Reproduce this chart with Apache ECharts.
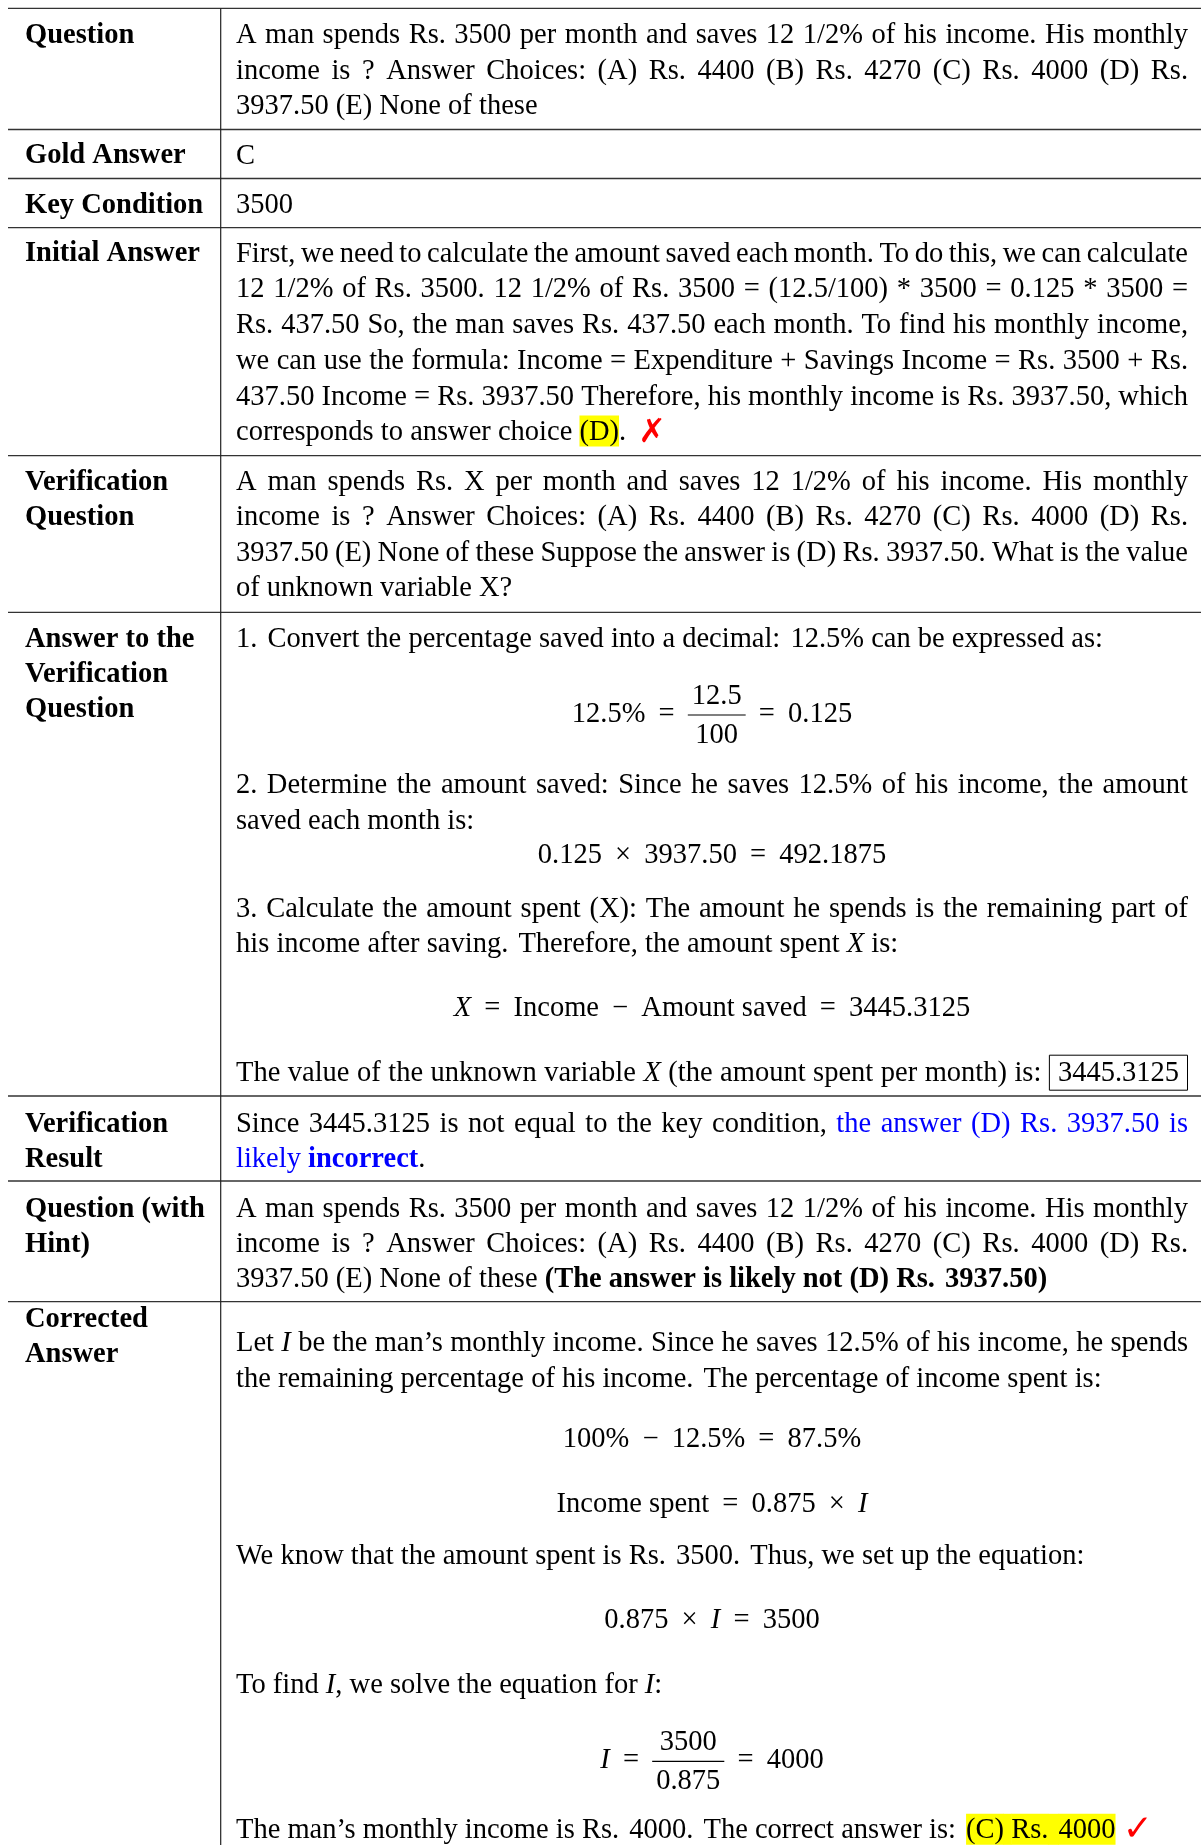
<!DOCTYPE html>
<html>
<head>
<meta charset="utf-8">
<script src="https://cdn.jsdelivr.net/npm/echarts@6/dist/echarts.min.js"></script>
<style>
  html, body { margin: 0; padding: 0; background: #fff; }
  #main { width: 1201px; height: 1845px; }
</style>
</head>
<body>
<div id="main"></div>
<script>
// row headers (left column)
const rowLabels = [
  ['Question'],
  ['Gold Answer'],
  ['Key Condition'],
  ['Initial Answer'],
  ['Verification', 'Question'],
  ['Answer to the', 'Verification', 'Question'],
  ['Verification', 'Result'],
  ['Question (with', 'Hint)'],
  ['Corrected', 'Answer']
];

// cell texts, one entry per printed line: [kind, ...segments]
// kind: j = justified, l = left, c = centred formula
// segment: plain string, or {b}, {i}, {c} blue, {cb} blue bold, {hl} highlight, {box}, {f:[num,den]}, {x} cross, {ok} tick
const questionLines = [
  ['j', 'A man spends Rs. 3500 per month and saves 12 1/2% of his income. His monthly'],
  ['j', 'income is ? Answer Choices: (A) Rs. 4400 (B) Rs. 4270 (C) Rs. 4000 (D) Rs.'],
  ['l', '3937.50 (E) None of these']
];
const goldLines = [['l', 'C']];
const keyLines = [['l', '3500']];
const initialLines = [
  ['j', 'First, we need to calculate the amount saved each month. To do this, we can calculate'],
  ['j', '12 1/2% of Rs. 3500. 12 1/2% of Rs. 3500 = (12.5/100) * 3500 = 0.125 * 3500 ='],
  ['j', 'Rs. 437.50 So, the man saves Rs. 437.50 each month. To find his monthly income,'],
  ['j', 'we can use the formula: Income = Expenditure + Savings Income = Rs. 3500 + Rs.'],
  ['j', '437.50 Income = Rs. 3937.50 Therefore, his monthly income is Rs. 3937.50, which'],
  ['l', 'corresponds to answer choice ', { hl: '(D)' }, '. ', { x: '✗' }]
];
const verifQuestionLines = [
  ['j', 'A man spends Rs. X per month and saves 12 1/2% of his income. His monthly'],
  ['j', 'income is ? Answer Choices: (A) Rs. 4400 (B) Rs. 4270 (C) Rs. 4000 (D) Rs.'],
  ['j', '3937.50 (E) None of these Suppose the answer is (D) Rs. 3937.50. What is the value'],
  ['l', 'of unknown variable X?']
];
const verifAnswerLines = [
  ['l', '1. Convert the percentage saved into a decimal: 12.5% can be expressed as:'],
  ['c', '12.5% = ', { f: ['12.5', '100'] }, ' = 0.125'],
  ['j', '2. Determine the amount saved: Since he saves 12.5% of his income, the amount'],
  ['l', 'saved each month is:'],
  ['c', '0.125 × 3937.50 = 492.1875'],
  ['j', '3. Calculate the amount spent (X): The amount he spends is the remaining part of'],
  ['l', 'his income after saving. Therefore, the amount spent ', { i: 'X' }, ' is:'],
  ['c', { i: 'X' }, ' = Income − Amount saved = 3445.3125'],
  ['j', 'The value of the unknown variable ', { i: 'X' }, ' (the amount spent per month) is: ', { box: '3445.3125' }]
];
const resultLines = [
  ['j', 'Since 3445.3125 is not equal to the key condition, ', { c: 'the answer (D) Rs. 3937.50 is' }],
  ['l', { c: 'likely ' }, { cb: 'incorrect' }, '.']
];
const hintLines = [
  ['j', 'A man spends Rs. 3500 per month and saves 12 1/2% of his income. His monthly'],
  ['j', 'income is ? Answer Choices: (A) Rs. 4400 (B) Rs. 4270 (C) Rs. 4000 (D) Rs.'],
  ['l', '3937.50 (E) None of these ', { b: '(The answer is likely not (D) Rs. 3937.50)' }]
];
const correctedLines = [
  ['j', 'Let ', { i: 'I' }, ' be the man’s monthly income. Since he saves 12.5% of his income, he spends'],
  ['l', 'the remaining percentage of his income. The percentage of income spent is:'],
  ['c', '100% − 12.5% = 87.5%'],
  ['c', 'Income spent = 0.875 × ', { i: 'I' }],
  ['l', 'We know that the amount spent is Rs. 3500. Thus, we set up the equation:'],
  ['c', '0.875 × ', { i: 'I' }, ' = 3500'],
  ['l', 'To find ', { i: 'I' }, ', we solve the equation for ', { i: 'I' }, ':'],
  ['c', { i: 'I' }, ' = ', { f: ['3500', '0.875'] }, ' = 4000'],
  ['l', 'The man’s monthly income is Rs. 4000. The correct answer is: ', { hl: '(C) Rs. 4000' }, ' ', { ok: '✓' }]
];
const rowLines = [questionLines, goldLines, keyLines, initialLines, verifQuestionLines,
  verifAnswerLines, resultLines, hintLines, correctedLines];

// layout (pixels)
const rowTops = [8.3, 129.5, 178.5, 227.7, 455.7, 612.3, 1096, 1181, 1301.7];
const labelBase = [[43], [163.5], [213], [261.5], [490, 525], [646.7, 681.7, 716.7],
  [1131.7, 1166.7], [1216.7, 1251.7], [1327, 1362]];
const lineBase = [
  [43, 78.7, 114.4],
  [163.5],
  [213],
  [261.5, 297, 332.5, 368.5, 404.5, 440],
  [490, 525, 560.5, 596],
  [646.7, 722, 793, 829, 863, 916.7, 952, 1016, 1080.7],
  [1131.7, 1166.7],
  [1216.7, 1251.7, 1287],
  [1351, 1386.7, 1446.7, 1511.7, 1564.3, 1628.3, 1693.3, 1768.3, 1838.3]
];

const FS = 28.5;
const SERIF = '"Liberation Serif", "Times New Roman", serif';
const LABEL_X = 25, LEFT_X = 236, RIGHT_X = 1188, CENTER_X = 712, COL_X = 220.7;
const MID = 0.26;
const SENT_EXTRA = 3, OP_EXTRA = 6;

const ctx = document.createElement('canvas').getContext('2d');
function measure(text, font) { ctx.font = font; return ctx.measureText(text).width; }

function norm(seg) {
  if (typeof seg === 'string') return { text: seg, tag: 'n' };
  const tag = Object.keys(seg)[0];
  return { text: seg[tag], tag: tag };
}
function fontOf(tag) {
  if (tag === 'b' || tag === 'cb') return 'bold ' + FS + 'px ' + SERIF;
  if (tag === 'i') return 'italic ' + FS + 'px ' + SERIF;
  if (tag === 'x') return 'bold 33px "DejaVu Sans"';
  if (tag === 'ok') return '36px "DejaVu Sans"';
  return FS + 'px ' + SERIF;
}
function fillOf(tag) {
  if (tag === 'c' || tag === 'cb') return '#0000ff';
  if (tag === 'x' || tag === 'ok') return '#ff0000';
  return '#000';
}
const BOX_PAD = 9, FRAC_PAD = 4;
function pieceWidth(p) {
  if (p.tag === 'f') {
    return Math.max(measure(p.text[0], fontOf('n')), measure(p.text[1], fontOf('n'))) + 2 * FRAC_PAD;
  }
  const w = measure(p.text, fontOf(p.tag));
  return p.tag === 'box' ? w + 2 * BOX_PAD : w;
}

const elements = [];
function text(x, base, str, font, fill, align) {
  elements.push({
    type: 'text', x: x, y: base - MID * FS, z: 10,
    style: { text: str, font: font, fill: fill, align: align || 'left', verticalAlign: 'middle',
      textAlign: align || 'left', textVerticalAlign: 'middle' }
  });
}
function hlRect(x, base, w) {
  elements.push({ type: 'rect', z: 1, shape: { x: x, y: base - 24.5, width: w, height: 31 },
    style: { fill: '#ffff00' } });
}
function drawPiece(p, x, base) {
  const w = pieceWidth(p);
  if (p.tag === 'f') {
    const mid = x + w / 2;
    text(mid, base - 18, p.text[0], fontOf('n'), '#000', 'center');
    text(mid, base + 20.5, p.text[1], fontOf('n'), '#000', 'center');
    elements.push({ type: 'line', z: 10, shape: { x1: x, y1: base - 7, x2: x + w, y2: base - 7 },
      style: { stroke: '#000', lineWidth: 1.2 } });
    return;
  }
  if (p.tag === 'hl') hlRect(x, base, w);
  if (p.tag === 'box') {
    elements.push({ type: 'rect', z: 10, shape: { x: x + 0.5, y: base - 25.5, width: w - 1, height: 35 },
      style: { fill: 'none', stroke: '#000', lineWidth: 1 } });
    text(x + BOX_PAD, base, p.text, fontOf('n'), '#000');
    return;
  }
  if (p.tag === 'x') { text(x + 2, base + 1, p.text, fontOf('x'), fillOf('x')); return; }
  text(x, base, p.text, fontOf(p.tag), fillOf(p.tag));
}

function tokenize(segs) {
  const tokens = [];
  let cur = [];
  segs.forEach(s => {
    if (s.tag === 'f') { cur.push(s); return; }
    s.text.split(' ').forEach((part, k) => {
      if (k > 0 && cur.length) { tokens.push(cur); cur = []; }
      if (part) cur.push({ text: part, tag: s.tag });
    });
  });
  if (cur.length) tokens.push(cur);
  return tokens;
}
const isOp = t => t.length === 1 && ['=', '×', '−', '+'].includes(t[0].text);
const endsSentence = t => {
  const last = t[t.length - 1];
  return last.tag !== 'f' && /[.:?!]$/.test(last.text);
};

function layoutLine(line, base) {
  const kind = line[0];
  const tokens = tokenize(line.slice(1).map(norm));
  const widths = tokens.map(t => t.reduce((a, p) => a + pieceWidth(p), 0));
  const sp = measure(' ', fontOf('n'));
  let gaps = [];
  for (let k = 0; k < tokens.length - 1; k++) {
    if (kind === 'c') gaps.push(sp + (isOp(tokens[k]) || isOp(tokens[k + 1]) ? OP_EXTRA : 0));
    else gaps.push(sp + (endsSentence(tokens[k]) ? SENT_EXTRA : 0));
  }
  const textW = widths.reduce((a, b) => a + b, 0);
  let x = LEFT_X;
  if (kind === 'j') {
    const g = (RIGHT_X - LEFT_X - textW) / Math.max(1, tokens.length - 1);
    gaps = gaps.map(() => g);
  } else if (kind === 'c') {
    x = CENTER_X - (textW + gaps.reduce((a, b) => a + b, 0)) / 2;
  }
  tokens.forEach((t, k) => {
    t.forEach(p => { drawPiece(p, x, base); x += pieceWidth(p); });
    if (k < gaps.length) {
      // keep highlight continuous across spaces inside a highlighted phrase
      if (t[t.length - 1].tag === 'hl' && tokens[k + 1][0].tag === 'hl') hlRect(x - 0.5, base, gaps[k] + 1);
      x += gaps[k];
    }
  });
}

// grid lines
rowTops.forEach(y => {
  elements.push({ type: 'line', z: 5, shape: { x1: 8, y1: y, x2: 1201, y2: y },
    style: { stroke: '#333', lineWidth: 1.3 } });
});
elements.push({ type: 'line', z: 5, shape: { x1: COL_X, y1: rowTops[0], x2: COL_X, y2: 1845 },
  style: { stroke: '#222', lineWidth: 1.2 } });

rowLabels.forEach((lab, r) => {
  lab.forEach((s, k) => text(LABEL_X, labelBase[r][k], s, fontOf('b'), '#000'));
});
rowLines.forEach((lines, r) => {
  lines.forEach((line, k) => layoutLine(line, lineBase[r][k]));
});

const chart = echarts.init(document.getElementById('main'), null, { renderer: 'canvas' });
chart.setOption({
  animation: false,
  backgroundColor: '#fff',
  graphic: { elements: elements }
});
</script>
</body>
</html>
